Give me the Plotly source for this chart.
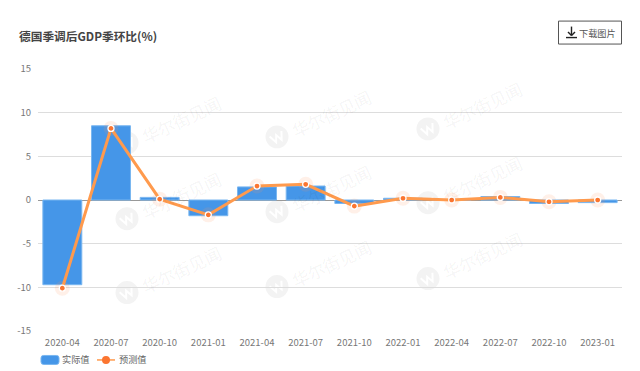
import math
import plotly.graph_objects as go

categories = ["2020-04","2020-07","2020-10","2021-01","2021-04","2021-07","2021-10","2022-01","2022-04","2022-07","2022-10","2023-01"]
actual = [-9.7, 8.5, 0.3, -1.8, 1.5, 1.6, -0.4, 0.2, 0.0, 0.4, -0.4, -0.3]
forecast = [-10.1, 8.2, 0.1, -1.7, 1.6, 1.8, -0.7, 0.2, 0.0, 0.3, -0.2, 0.0]
tick_vals = [-15, -10, -5, 0, 5, 10, 15]
legend_names = ["实际值", "预测值"]

W, H = 640, 371
L, R, T, B = 38, 622, 69, 331.5
FONT = "Noto Sans CJK SC"
px = lambda x: (x - L) / (R - L)
py = lambda y: (B - y) / (B - T)

wm_x = [127, 277, 428]
wm_y = [[143, 219, 293], [137, 212, 287], [129, 203, 279]]

fig = go.Figure()
fig.add_bar(x=categories, y=actual, name=legend_names[0], marker=dict(color="#4596e8", line=dict(color="#79b6f0", width=1)), width=0.8)
fig.add_scatter(x=categories, y=forecast, mode="markers", showlegend=False, hoverinfo="skip",
                marker=dict(size=15, color="rgba(255,150,90,0.14)", line=dict(width=0)))
fig.add_scatter(x=categories, y=forecast, mode="lines+markers", name=legend_names[1],
                line=dict(color="#ff9a4d", width=3),
                marker=dict(size=6, color="#fb7530", line=dict(color="#ffffff", width=1.3)))

shapes, annos = [], []
def W_path(cx, cy):
    pts = [(-6.5, -3.5), (-3, 4.5), (0, -2), (3, 4.5), (6.5, -3.5)]
    a = math.radians(-25)
    rot = [(cx + x*math.cos(a) - y*math.sin(a), cy + x*math.sin(a) + y*math.cos(a)) for x, y in pts]
    return "M " + " L ".join(f"{px(x):.4f},{py(y):.4f}" for x, y in rot)

for i, cx in enumerate(wm_x):
    for cy in wm_y[i]:
        shapes.append(dict(type="circle", xref="paper", yref="paper", layer="below",
                           x0=px(cx-11.5), x1=px(cx+11.5), y0=py(cy+11.5), y1=py(cy-11.5),
                           fillcolor="#f3f3f3", line=dict(width=0)))
        shapes.append(dict(type="path", xref="paper", yref="paper", layer="below", path=W_path(cx, cy),
                           line=dict(color="#ffffff", width=2)))
        annos.append(dict(xref="paper", yref="paper", x=px(cx+54), y=py(cy-23), xanchor="center", yanchor="middle",
                          text="华尔街见闻", showarrow=False,
                          font=dict(size=17, color="rgba(0,0,0,0.055)", family=FONT), textangle=-25))

# chart title
annos.append(dict(xref="paper", yref="paper", x=px(16.5), y=py(35), xanchor="left", yanchor="middle",
                  text="<b>德国季调后GDP季环比(%)</b>", showarrow=False, font=dict(size=11.7, color="#444444", family=FONT)))
# download button
shapes.append(dict(type="rect", xref="paper", yref="paper", x0=px(558.5), x1=px(621.5), y0=py(44), y1=py(21),
                   line=dict(color="#555555", width=1), fillcolor="#ffffff"))
annos.append(dict(xref="paper", yref="paper", x=px(577), y=py(32.5), xanchor="left", yanchor="middle",
                  text="下载图片", showarrow=False, font=dict(size=9.2, color="#555555", family=FONT)))
for a, b, c, d in [(571.5, 26.5, 571.5, 35.5), (566, 37.5, 577, 37.5), (568, 32, 571.5, 35.5), (575, 32, 571.5, 35.5)]:
    shapes.append(dict(type="line", xref="paper", yref="paper", x0=px(a), y0=py(b), x1=px(c), y1=py(d),
                       line=dict(color="#222222", width=1.4)))

# legend
x0, x1, y0, y1, r = 41, 59, 356, 365, 2.5
shapes.append(dict(type="path", xref="paper", yref="paper", fillcolor="#4596e8", line=dict(color="#79b6f0", width=1),
    path=(f"M {px(x0+r)},{py(y0)} L {px(x1-r)},{py(y0)} Q {px(x1)},{py(y0)} {px(x1)},{py(y0+r)} "
          f"L {px(x1)},{py(y1-r)} Q {px(x1)},{py(y1)} {px(x1-r)},{py(y1)} L {px(x0+r)},{py(y1)} "
          f"Q {px(x0)},{py(y1)} {px(x0)},{py(y1-r)} L {px(x0)},{py(y0+r)} Q {px(x0)},{py(y0)} {px(x0+r)},{py(y0)} Z")))
shapes.append(dict(type="line", xref="paper", yref="paper", x0=px(97), x1=px(115), y0=py(360.5), y1=py(360.5),
                   line=dict(color="#ff9a4d", width=1.5)))
shapes.append(dict(type="circle", xref="paper", yref="paper", x0=px(102), x1=px(110), y0=py(364.5), y1=py(356.5),
                   fillcolor="#fb7530", line=dict(width=0)))
annos.append(dict(xref="paper", yref="paper", x=px(60), y=py(360), xanchor="left", yanchor="middle", text=legend_names[0],
                  showarrow=False, font=dict(size=9.2, color="#666666", family=FONT)))
annos.append(dict(xref="paper", yref="paper", x=px(117), y=py(360), xanchor="left", yanchor="middle", text=legend_names[1],
                  showarrow=False, font=dict(size=9.2, color="#666666", family=FONT)))

fig.update_layout(
    width=W, height=H, autosize=False, paper_bgcolor="#ffffff", plot_bgcolor="rgba(0,0,0,0)",
    margin=dict(l=L, r=W-R, t=T, b=H-B), bargap=0.2, shapes=shapes, annotations=annos,
    font=dict(family=FONT, size=10, color="#777777"),
    showlegend=False,
    xaxis=dict(type="category", showgrid=False, showline=False, ticks="outside", ticklen=3, tickcolor="rgba(0,0,0,0)",
               tickfont=dict(size=9.5, color="#777777"), range=[-0.5, 11.5]),
    yaxis=dict(range=[-15, 15], tickvals=tick_vals, ticktext=[str(v) for v in tick_vals],
               gridcolor="#dddddd", gridwidth=1, zeroline=True, zerolinecolor="#999999", zerolinewidth=1,
               tickfont=dict(size=9.5, color="#777777"), ticks="outside", ticklen=4, tickcolor="rgba(0,0,0,0)", showline=False),
)
fig.write_html("out.html", config={"displayModeBar": False},
               post_script="document.body.style.margin='0';")
